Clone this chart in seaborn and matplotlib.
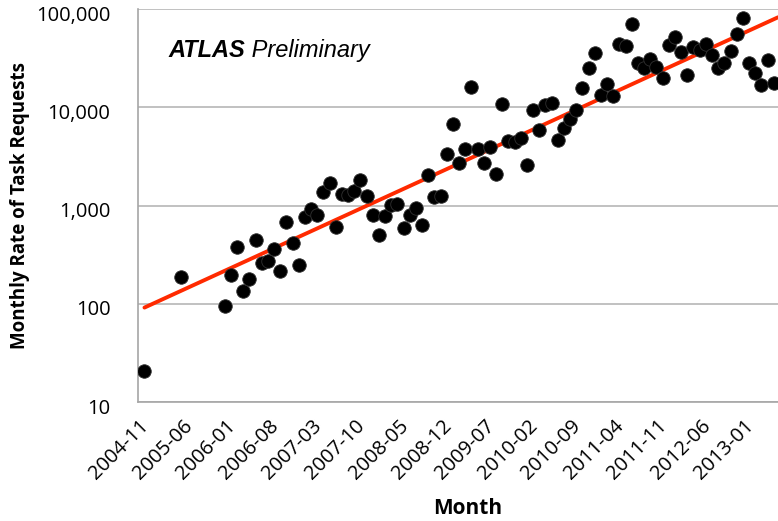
import numpy as np
import pandas as pd
import matplotlib
matplotlib.use("Agg")
import matplotlib.pyplot as plt
import matplotlib.transforms as mtransforms
from matplotlib.ticker import FixedLocator, NullLocator, FuncFormatter
import seaborn as sns

# data
# two early points, then one point every month from 2006-01 to 2013-06
early_months = ['2004-12', '2005-06']
early_rates = [21, 190]

monthly_start = '2006-01'
monthly_rates = [
    96, 199, 380, 135, 181, 444, 264, 273, 366, 219, 689, 421,          # 2006
    251, 760, 935, 798, 1377, 1718, 612, 1327, 1276, 1412, 1844, 1257,  # 2007
    798, 503, 785, 1009, 1050, 598, 798, 948, 632, 2037, 1217, 1257,    # 2008
    3388, 6840, 2740, 3750, 16150, 3750, 2686, 3963, 2123, 10740, 4520, 4450,  # 2009
    4930, 2585, 9500, 5940, 10500, 11090, 4630, 6100, 7520, 9350, 15900, 24950,  # 2010
    35700, 13270, 17180, 12970, 43750, 42050, 71100, 28500, 25100, 31300, 25800, 20100,  # 2011
    42800, 52000, 36600, 21200, 41100, 38000, 44500, 33900, 25100, 28300, 37400, 56200,  # 2012
    81800, 28300, 22100, 16800, 30100, 17500,                           # 2013
]

axis_start = '2004-11'
tick_labels = ['2004-11', '2005-06', '2006-01', '2006-08', '2007-03', '2007-10',
               '2008-05', '2008-12', '2009-07', '2010-02', '2010-09', '2011-04',
               '2011-11', '2012-06', '2013-01']
y_ticks = [10, 100, 1000, 10000, 100000]

# build table
months = early_months + [str(p) for p in pd.period_range(monthly_start, periods=len(monthly_rates), freq='M')]
rates = early_rates + monthly_rates
df = pd.DataFrame({'Month': months, 'Rate': rates})
start = pd.Period(axis_start, freq='M')
df['idx'] = [(pd.Period(m, freq='M') - start).n for m in df['Month']]
tick_pos = [(pd.Period(t, freq='M') - start).n for t in tick_labels]

# exponential trend (fit in log space)
fit = np.polyfit(df['idx'], np.log10(df['Rate']), 1)
x_right = 103.7
trend_x = np.array([df['idx'].min(), x_right])
trend = pd.DataFrame({'idx': trend_x, 'Rate': 10 ** np.polyval(fit, trend_x)})

sns.set_style("white")
plt.rcParams['font.family'] = ['Open Sans', 'DejaVu Sans']
plt.rcParams['text.color'] = 'black'
plt.rcParams['axes.labelcolor'] = 'black'

W, H = 778, 521
fig = plt.figure(figsize=(W / 100, H / 100), dpi=100)
left, right, top, bottom = 138.3, 778, 9, 402.3
ax = fig.add_axes([left / W, 1 - bottom / H, (right - left) / W, (bottom - top) / H])

ax.set_yscale('log')
ax.set_ylim(10, 100000)
ax.set_xlim(0, x_right)

ax.yaxis.grid(True, color='#b0b0b0', lw=1.1, zorder=0)
ax.set_axisbelow(True)

sns.lineplot(data=trend, x='idx', y='Rate', ax=ax, color='#ff2a00', lw=2.8, zorder=3)
sns.scatterplot(data=df, x='idx', y='Rate', ax=ax, color='black', s=95,
                edgecolor='#303030', linewidth=0.6, zorder=4)

ax.yaxis.set_major_locator(FixedLocator(y_ticks))
ax.yaxis.set_minor_locator(NullLocator())
ax.yaxis.set_major_formatter(FuncFormatter(lambda v, p: f'{int(v):,}'))
ax.set_xticks(tick_pos)
ax.set_xticklabels(tick_labels, rotation=45, ha='right', va='center', rotation_mode='anchor')

for s in ['top', 'right']:
    ax.spines[s].set_visible(False)
for s in ['left', 'bottom']:
    ax.spines[s].set_color('#a6a6a6')
    ax.spines[s].set_linewidth(1.2)

ax.tick_params(axis='x', length=5, width=1.1, color='#a6a6a6', pad=10, labelsize=14.5, labelcolor='black')
ax.tick_params(axis='y', length=5, width=1.1, color='#a6a6a6', pad=15, labelsize=14.5, labelcolor='black')

# nudge labels like the original
off_x = mtransforms.ScaledTranslation(8 / 100, 0, fig.dpi_scale_trans)
for lab in ax.get_xticklabels():
    lab.set_transform(lab.get_transform() + off_x)
off_y = mtransforms.ScaledTranslation(0, -4 / 100, fig.dpi_scale_trans)
for lab in ax.get_yticklabels():
    lab.set_transform(lab.get_transform() + off_y)

ax.set_ylabel('Monthly Rate of Task Requests', fontsize=13.5, fontweight='bold', color='black')
ax.yaxis.set_label_coords(-0.169, 0.5)
ax.set_xlabel('Month', fontsize=15, fontweight='bold', color='black')
ax.xaxis.label.set_va('center')
ax.xaxis.set_label_coords(0.515, -0.271)

t1 = ax.text(0.0469, 0.8787, 'ATLAS', transform=ax.transAxes, fontsize=17, color='black',
             fontweight='bold', fontstyle='italic', family=['Liberation Sans', 'DejaVu Sans'],
             va='baseline')
ax.annotate(' Preliminary', xy=(1, 0), xycoords=t1, va='bottom', ha='left', fontsize=17,
            color='black', fontstyle='italic', family=['Liberation Sans', 'DejaVu Sans'])

fig.savefig('out.png', dpi=100)
